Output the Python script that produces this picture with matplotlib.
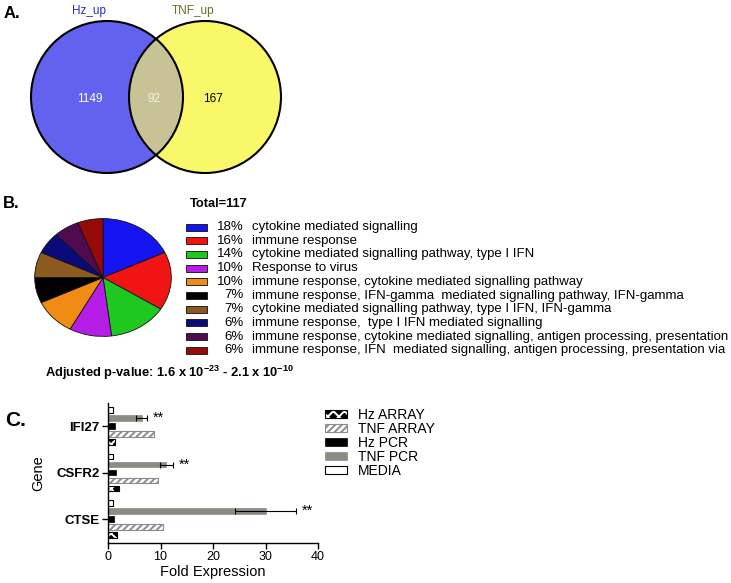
import matplotlib
matplotlib.use('Agg')
import matplotlib.pyplot as plt
from matplotlib.patches import Circle, Rectangle
from matplotlib.legend_handler import HandlerTuple
import numpy as np

plt.rcParams['font.family'] = ['Liberation Sans', 'DejaVu Sans']
plt.rcParams['mathtext.fontset'] = 'custom'
plt.rcParams['mathtext.rm'] = 'Liberation Sans'
plt.rcParams['mathtext.bf'] = 'Liberation Sans:bold'
plt.rcParams['hatch.linewidth'] = 1.4

# ---------------- Panel A data ----------------
venn_sets = ['Hz_up', 'TNF_up']
venn_counts = [1149, 92, 167]  # Hz only, shared, TNF only

# ---------------- Panel B data ----------------
go_total = 117
go_pcts = [18, 16, 14, 10, 10, 7, 7, 6, 6, 6]
go_terms = [
    'cytokine mediated signalling',
    'immune response',
    'cytokine mediated signalling pathway, type I IFN',
    'Response to virus',
    'immune response, cytokine mediated signalling pathway',
    'immune response, IFN-gamma  mediated signalling pathway, IFN-gamma',
    'cytokine mediated signalling pathway, type I IFN, IFN-gamma',
    'immune response,  type I IFN mediated signalling',
    'immune response, cytokine mediated signalling, antigen processing, presentation',
    'immune response, IFN  mediated signalling, antigen processing, presentation via',
]
go_colors = ['#1414f0', '#f01414', '#1ec81e', '#b41ee6', '#f08c14',
             '#000000', '#8c5a1e', '#0a0a78', '#500a50', '#960a0a']

# ---------------- Panel C data ----------------
genes = ['IFI27', 'CSFR2', 'CTSE']
media = [1.0, 1.0, 1.0]
tnf_pcr = [6.4, 11.1, 30.0]
tnf_pcr_err = [1.1, 1.2, 5.9]
hz_pcr = [1.3, 1.6, 1.2]
tnf_array = [8.8, 9.5, 10.5]
hz_array = [1.3, 2.0, 1.7]
xticks = [0, 10, 20, 30, 40]

W, H = 731, 583
fig = plt.figure(figsize=(W / 100, H / 100), dpi=100)


def px(x0, y0, x1, y1):
    return [x0 / W, 1 - y1 / H, (x1 - x0) / W, (y1 - y0) / H]


ax0 = fig.add_axes([0, 0, 1, 1])
ax0.set_xlim(0, W)
ax0.set_ylim(H, 0)
ax0.axis('off')

# ---- Venn ----
r = 76
cL = (107, 97)
cR = (205, 97)
c1 = Circle(cL, r, fc='#6262ef', ec='none')
c2 = Circle(cR, r, fc='#f8f86a', ec='none')
ax0.add_patch(c1)
ax0.add_patch(c2)
c3 = Circle(cR, r, fc='#c8c396', ec='none')
ax0.add_patch(c3)
c3.set_clip_path(c1)
ax0.add_patch(Circle(cL, r, fill=False, ec='black', lw=1.5))
ax0.add_patch(Circle(cR, r, fill=False, ec='black', lw=1.5))
ax0.text(90, 99, str(venn_counts[0]), color='white', ha='center', va='center', fontsize=8.5)
ax0.text(154, 99, str(venn_counts[1]), color='#f0f0e6', ha='center', va='center', fontsize=8.5)
ax0.text(213, 99, str(venn_counts[2]), color='black', ha='center', va='center', fontsize=8.5)
ax0.text(89, 11, venn_sets[0], color='#2828c8', ha='center', va='center', fontsize=8.5)
ax0.text(193, 11, venn_sets[1], color='#6e6e28', ha='center', va='center', fontsize=8.5)

ax0.text(4, 14, 'A.', fontsize=12, fontweight='bold', va='center')
ax0.text(3, 203, 'B.', fontsize=12, fontweight='bold', va='center')
ax0.text(5, 420, 'C.', fontsize=15, fontweight='bold', va='center')

# ---- Pie ----
axp = fig.add_axes(px(34, 218, 172, 337))
axp.pie(go_pcts, colors=go_colors, startangle=90, counterclock=False,
        wedgeprops=dict(linewidth=0.6, edgecolor='#111111'))
axp.set_aspect('auto')
axp.set_xlim(-1.01, 1.01)
axp.set_ylim(-1.01, 1.01)

ax0.text(190, 204, f'Total={go_total}', fontsize=9.3, fontweight='bold', va='center')
for i, (p, t, c) in enumerate(zip(go_pcts, go_terms, go_colors)):
    y = 227 + i * 13.7
    ax0.add_patch(Rectangle((186, y - 3.5), 21, 7, fc=c, ec='#222222', lw=0.7))
    ax0.text(244, y, f'{p}%', fontsize=9.5, ha='right', va='center')
    ax0.text(252, y, t, fontsize=9.5, ha='left', va='center')

ax0.text(45, 373, r'Adjusted p-value: 1.6 x 10$^{\mathbf{-23}}$ - 2.1 x 10$^{\mathbf{-10}}$',
         fontsize=9.3, fontweight='bold', va='center')

# ---- Bars ----
axb = fig.add_axes(px(108, 403, 318, 543))
gpos = np.array([0, 5.8, 11.6])
hgt = 0.7
b_media = axb.barh(gpos - 2, media, height=hgt, color='white', edgecolor='black', lw=0.8)
b_tnfpcr = axb.barh(gpos - 1, tnf_pcr, height=hgt, color='#8c8c84', edgecolor='#8c8c84', lw=0.5,
                    xerr=tnf_pcr_err, error_kw=dict(ecolor='black', elinewidth=0.8, capsize=2, capthick=0.8))
b_hzpcr = axb.barh(gpos, hz_pcr, height=hgt, color='black', edgecolor='black', lw=0.5)
b_tnfarr = axb.barh(gpos + 1, tnf_array, height=hgt, color='white', edgecolor='#8c8c8c', hatch='/////', lw=0.8)
b_hzarr = axb.barh(gpos + 2, hz_array, height=hgt, color='black', edgecolor='white', hatch='xxx', lw=0)
b_hzarr_edge = axb.barh(gpos + 2, hz_array, height=hgt, fill=False, edgecolor='black', lw=0.8)

for g, v, e in zip(gpos, tnf_pcr, tnf_pcr_err):
    axb.text(v + e + 1.1, g - 1, '**', fontsize=10.5, va='center', ha='left')

axb.set_xlim(0, 40)
axb.set_ylim(14.6, -2.9)
axb.set_xticks(xticks)
axb.set_xticklabels([str(x) for x in xticks], fontsize=9)
axb.set_yticks(gpos)
axb.set_yticklabels(genes, fontsize=9.5, fontweight='bold')
axb.spines['top'].set_visible(False)
axb.spines['right'].set_visible(False)
axb.spines['left'].set_linewidth(1.0)
axb.spines['bottom'].set_linewidth(1.0)
axb.tick_params(direction='out', length=4, width=1.0, pad=2)
axb.set_xlabel('Fold Expression', fontsize=10.5, labelpad=1)
axb.set_ylabel('Gene', fontsize=10.5, labelpad=8)

handles = [(b_hzarr, b_hzarr_edge), b_tnfarr, b_hzpcr, b_tnfpcr, b_media]
labels = ['Hz ARRAY', 'TNF ARRAY', 'Hz PCR', 'TNF PCR', 'MEDIA']
fig.legend(handles, labels, loc='upper left', bbox_to_anchor=(325 / W, 1 - 408 / H),
           frameon=False, fontsize=10, handlelength=1.6, handleheight=0.55,
           labelspacing=0.0, borderpad=0, borderaxespad=0, handletextpad=0.8,
           handler_map={tuple: HandlerTuple(ndivide=1, pad=0)})

fig.savefig('out.png', dpi=100)
